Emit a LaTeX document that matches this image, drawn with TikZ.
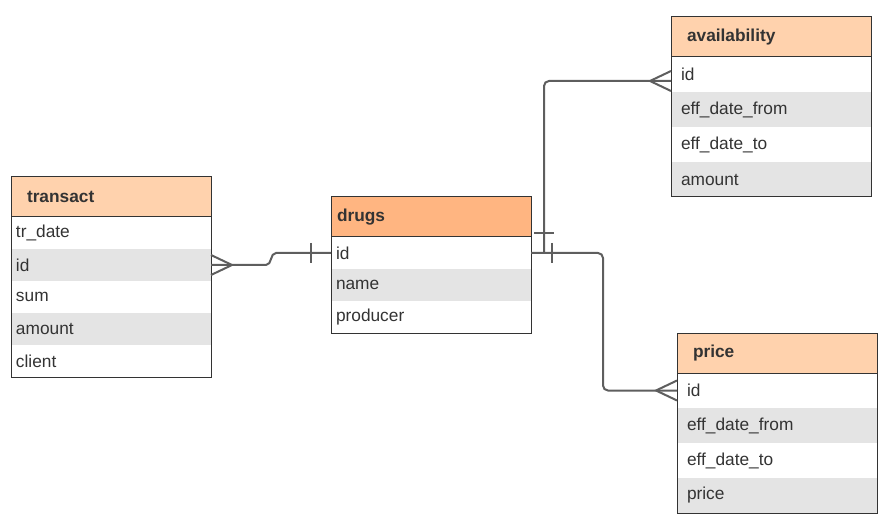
\documentclass[tikz,border=0pt]{standalone}
\usepackage{fontspec}
\setmainfont{Liberation Sans}
\usepackage{tikz}
\usepackage{xcolor}
\usetikzlibrary{positioning,calc}
\definecolor{peach}{HTML}{FFD2AD}
\definecolor{drugorange}{HTML}{FFB581}
\definecolor{rowgray}{HTML}{E4E4E4}
\definecolor{border}{HTML}{333333}
\definecolor{linkgray}{HTML}{5E5E5E}

\begin{document}
\begin{tikzpicture}[x=1pt,y=-1pt,font=\fontsize{17.3}{20}\selectfont,text=border]
	\tikzstyle{head}=[draw=border,line width=1pt,fill=peach,anchor=north west,outer sep=0pt,minimum width=200pt,minimum height=40pt,inner xsep=16pt,text width=168pt,align=left,font=\fontsize{17.3}{20}\selectfont\bfseries]
	\tikzstyle{mainhead}=[head,fill=drugorange,inner xsep=6pt,text width=188pt]
	\tikzstyle{row}=[anchor=north west,outer sep=0pt,minimum width=200pt,minimum height=32pt,inner xsep=5pt,text width=190pt,align=left]
	\tikzstyle{longrow}=[row,minimum height=35pt,inner xsep=10pt,text width=180pt]
	\tikzstyle{shade}=[fill=rowgray]
	\tikzstyle{frame}=[draw=border,line width=1pt]
	\tikzstyle{link}=[draw=linkgray,line width=2pt]
	
	\useasboundingbox (0,0) rectangle (882,526);
	
	% transact
	\node [head] (transact) at (11,177) {transact};
	\node [row,below=0pt of transact] (transact-1) {tr\_date};
	\node [row,shade,below=0pt of transact-1] (transact-2) {id};
	\node [row,below=0pt of transact-2] (transact-3) {sum};
	\node [row,shade,below=0pt of transact-3] (transact-4) {amount};
	\node [row,below=0pt of transact-4] (transact-5) {client};
	\draw [frame] (transact.north west) rectangle (transact-5.south east);
	
	% drugs
	\node [mainhead] (drugs) at (331,197) {drugs};
	\node [row,below=0pt of drugs] (drugs-1) {id};
	\node [row,shade,below=0pt of drugs-1] (drugs-2) {name};
	\node [row,below=0pt of drugs-2] (drugs-3) {producer};
	\draw [frame] (drugs.north west) rectangle (drugs-3.south east);
	
	% availability
	\node [head] (avail) at (671,17) {availability};
	\node [longrow,below=0pt of avail] (avail-1) {id};
	\node [longrow,shade,below=0pt of avail-1] (avail-2) {eff\_date\_from};
	\node [longrow,below=0pt of avail-2] (avail-3) {eff\_date\_to};
	\node [longrow,shade,below=0pt of avail-3] (avail-4) {amount};
	\draw [frame] (avail.north west) rectangle (avail-4.south east);
	
	% price
	\node [head] (price) at (677,333) {price};
	\node [longrow,below=0pt of price] (price-1) {id};
	\node [longrow,shade,below=0pt of price-1] (price-2) {eff\_date\_from};
	\node [longrow,below=0pt of price-2] (price-3) {eff\_date\_to};
	\node [longrow,shade,below=0pt of price-3] (price-4) {price};
	\draw [frame] (price.north west) rectangle (price-4.south east);
	
	% links
	\coordinate (split) at ([xshift=13pt]drugs-1.east);
	\coordinate (availend) at ([yshift=-6.5pt]avail-1.west);
	
	\draw [link] (transact-2.east) -- ++(55,0) to[out=0,in=180] ($(drugs-1.west)+(-55,0)$) -- (drugs-1.west);
	\draw [link] ([yshift=10pt]transact-2.east) -- ([xshift=21pt]transact-2.east) -- ([yshift=-10pt]transact-2.east);
	\draw [link] ([xshift=-20pt,yshift=10pt]drugs-1.west) -- ([xshift=-20pt,yshift=-10pt]drugs-1.west);
	
	\draw [link,rounded corners=5pt] (split) |- (availend);
	\draw [link] ([xshift=-10pt,yshift=20pt]split) -- ([xshift=10pt,yshift=20pt]split);
	\draw [link] ([yshift=10pt]availend) -- ([xshift=-21pt]availend) -- ([yshift=-10pt]availend);
	
	\draw [link,rounded corners=5pt] (drugs-1.east) -- ++(72,0) |- (price-1.west);
	\draw [link] ([xshift=21pt,yshift=10pt]drugs-1.east) -- ([xshift=21pt,yshift=-10pt]drugs-1.east);
	\draw [link] ([yshift=10pt]price-1.west) -- ([xshift=-21pt]price-1.west) -- ([yshift=-10pt]price-1.west);
\end{tikzpicture}
\end{document}
